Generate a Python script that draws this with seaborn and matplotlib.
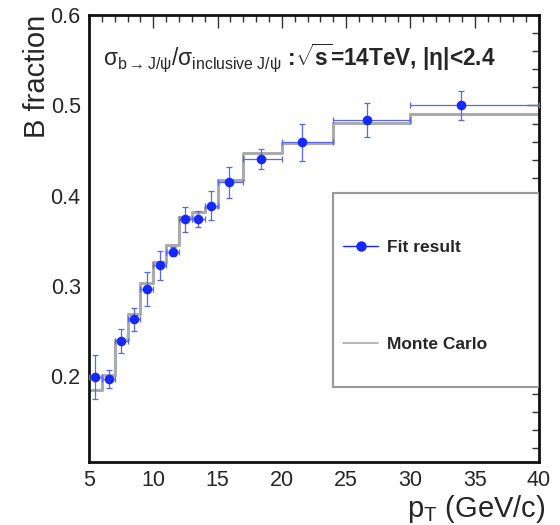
import numpy as np
import matplotlib
matplotlib.use("Agg")
import matplotlib.pyplot as plt
from matplotlib.patches import Rectangle
from matplotlib.lines import Line2D
from matplotlib.ticker import MultipleLocator
import seaborn as sns

# pT bin edges (GeV/c)
bin_edges = [5, 6, 7, 8, 9, 10, 11, 12, 13, 14, 15, 17, 20, 24, 30, 40]
# Monte Carlo B fraction per bin
mc_fraction = [0.185, 0.201, 0.240, 0.269, 0.303, 0.327, 0.345, 0.376,
               0.382, 0.387, 0.417, 0.447, 0.458, 0.481, 0.491]
# Fit result: mean pT in bin, B fraction and its uncertainty
fit_pt = [5.47, 6.55, 7.5, 8.5, 9.5, 10.5, 11.5, 12.5, 13.5, 14.5,
          15.9, 18.4, 21.6, 26.6, 33.9]
fit_fraction = [0.199, 0.197, 0.239, 0.263, 0.297, 0.323, 0.338, 0.374,
                0.374, 0.389, 0.415, 0.441, 0.459, 0.484, 0.500]
fit_error = [0.024, 0.010, 0.013, 0.013, 0.019, 0.016, 0.005, 0.014,
             0.009, 0.016, 0.017, 0.011, 0.020, 0.019, 0.016]
y_ticks = [0.2, 0.3, 0.4, 0.5, 0.6]
y_tick_labels = ["0.2", "0.3", "0.4", "0.5", "0.6"]

sns.set_theme(style="white")
plt.rcParams["font.family"] = ["Liberation Sans", "DejaVu Sans"]
plt.rcParams["mathtext.fontset"] = "custom"
plt.rcParams["mathtext.rm"] = "Liberation Sans"
plt.rcParams["mathtext.it"] = "Liberation Sans:italic"
plt.rcParams["mathtext.bf"] = "Liberation Sans:bold"

fig = plt.figure(figsize=(5.6, 5.25), dpi=100)
ax = fig.add_axes([0.159, 0.12, 0.8035, 0.851])

blue = "#1428ff"
grey = "#ababab"

# Monte Carlo histogram drawn as a step line
step_x = np.array(bin_edges, dtype=float)
step_y = np.array(mc_fraction + [mc_fraction[-1]])
sns.lineplot(x=step_x, y=step_y, drawstyle="steps-post", color=grey,
             linewidth=2.2, ax=ax, sort=False, estimator=None)

# Fit result with bin-width horizontal bars and vertical uncertainties
pt = np.array(fit_pt)
lo = np.array(bin_edges[:-1])
hi = np.array(bin_edges[1:])
ax.errorbar(pt, fit_fraction, xerr=[pt - lo, hi - pt], yerr=fit_error,
            fmt="none", ecolor="#5566ff", elinewidth=0.9, capsize=2.2,
            capthick=0.9, zorder=3)
sns.scatterplot(x=fit_pt, y=fit_fraction, color=blue, s=48,
                edgecolor=blue, linewidth=0, ax=ax, zorder=4)

ax.set_xlim(5, 40)
ax.set_ylim(0.105, 0.6)
ax.xaxis.set_major_locator(MultipleLocator(5))
ax.xaxis.set_minor_locator(MultipleLocator(1))
ax.set_yticks(y_ticks)
ax.set_yticklabels(y_tick_labels)
ax.yaxis.set_minor_locator(MultipleLocator(0.02))
ax.tick_params(which="both", direction="in", top=True, right=True,
               color="#333333", width=1.0)
ax.tick_params(which="major", length=9, labelsize=15.5, pad=6)
ax.tick_params(which="minor", length=5)
for s in ax.spines.values():
    s.set_linewidth(2.0)
    s.set_color("#111111")

ax.set_ylabel("B fraction", fontsize=21, loc="top", labelpad=0)
ax.set_xlabel(r"p$_\mathrm{T}$ (GeV/c)", fontsize=21, loc="right",
              labelpad=1)
ax.xaxis.label.set_x(1.015)

ax.text(0.03, 0.905,
        r"$\mathrm{\sigma}_{\mathrm{b\rightarrow J/\psi}}/"
        r"\mathrm{\sigma}_{\mathrm{inclusive\ J/\psi}}$"
        r" :$\sqrt{\mathbf{s}}$=14TeV, |$\mathbf{\eta}$|<2.4",
        transform=ax.transAxes, fontsize=16.3, fontweight="bold",
        ha="left", va="center")

# Legend frame and entries
ax.add_patch(Rectangle((0.542, 0.168), 0.458, 0.434, transform=ax.transAxes,
                       facecolor="white", edgecolor="#999999",
                       linewidth=1.5, zorder=5))
handles = [
    Line2D([], [], color=blue, linewidth=1.0, marker="o", markersize=6.5),
    Line2D([], [], color=grey, linewidth=1.2),
]
leg = ax.legend(handles, ["Fit result", "Monte Carlo"],
                loc="upper left", bbox_to_anchor=(0.565, 0.498),
                frameon=False, fontsize=12.5, labelspacing=4.75,
                handlelength=2.0, handletextpad=0.5, borderpad=0,
                borderaxespad=0)
leg.set_zorder(6)
for t in leg.get_texts():
    t.set_fontweight("bold")

fig.savefig("out.png", dpi=100)
